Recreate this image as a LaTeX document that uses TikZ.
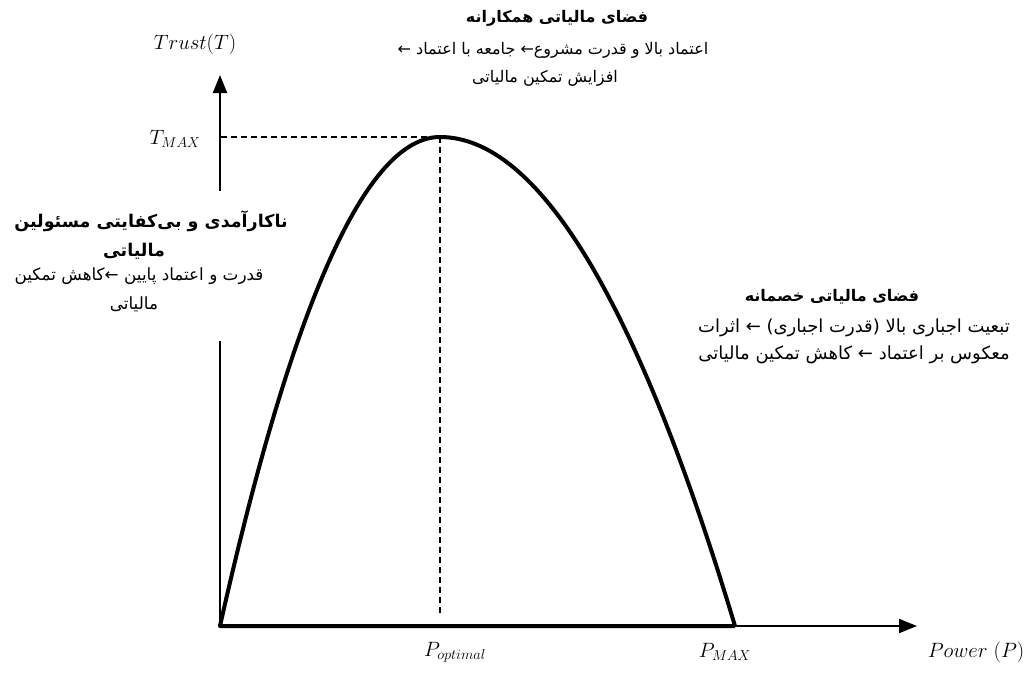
\documentclass[tikz,border=0pt]{standalone}
\usepackage{fontspec}
\newfontfamily\fa[Script=Arabic]{DejaVu Sans}
\TeXXeTstate=1
\usetikzlibrary{arrows.meta}
\tikzset{
  fatop/.style={font=\fa\fontsize{16}{18}\selectfont, inner sep=0pt, anchor=center},
  fatopb/.style={font=\fa\bfseries\fontsize{16}{18}\selectfont, inner sep=0pt, anchor=center},
  faleft/.style={font=\fa\fontsize{16.8}{19}\selectfont, inner sep=0pt, anchor=center},
  faleftb/.style={font=\fa\bfseries\fontsize{17.5}{20}\selectfont, inner sep=0pt, anchor=center},
  faright/.style={font=\fa\fontsize{18}{20}\selectfont, inner sep=0pt, anchor=center},
  farightb/.style={font=\fa\bfseries\fontsize{16}{18}\selectfont, inner sep=0pt, anchor=center},
  mlab/.style={font=\fontsize{20}{24}\selectfont, inner sep=0pt, anchor=center},
  axis/.style={line width=2pt, -{Triangle[length=18pt,width=14pt]}},
  curvestyle/.style={line width=4pt, line join=round},
  guide/.style={line width=1.2pt, dash pattern=on 6pt off 4pt},
  maskbox/.style={fill=white, draw=none, inner sep=0pt}
}
\begin{document}
\begin{tikzpicture}[x=1pt,y=-1pt]
\useasboundingbox (0,0) rectangle (1032,672);
\coordinate (O) at (220,626);
\coordinate (Ytip) at (220,75);
\coordinate (Xtip) at (917,626);
\coordinate (Peak) at (440,137);
\coordinate (Pend) at (735,626);
\coordinate (Tm) at (221,137);
\coordinate (Pb) at (440,615);
% axes
\draw[axis] (O) -- (Ytip);
\draw[axis] (O) -- (Xtip);
% curve and thick base
\draw[curvestyle] (Pend) -- (O) .. controls (293,300) and (367,137) .. (Peak)
  .. controls (538,137) and (637,300) .. (Pend);
% guides
\draw[guide] (Tm) -- (Peak);
\draw[guide] (Peak) -- (Pb);
% math labels
\node[mlab] (trust) at (195,44) {$Trust(T)$};
\node[mlab] (tmax) at (175,139) {$T_{MAX}$};
\node[mlab] (popt) at (455,652) {$P_{optimal}$};
\node[mlab] (pmax) at (725,652) {$P_{MAX}$};
\node[mlab] (power) at (976,652) {$Power\ (P)$};
% top text
\node[fatopb] (t1) at (557,18) {\beginR فضای مالیاتی همکارانه\endR};
\node[fatop] (t2) at (553,50) {\beginR اعتماد بالا و قدرت مشروع← جامعه با اعتماد ←\endR};
\node[fatop] (t3) at (545,78) {\beginR افزایش تمکین مالیاتی\endR};
% left text (its white box hides the axis behind it)
\node[maskbox, minimum width=288pt, minimum height=150pt] (lbox) at (150,266) {};
\node[faleftb] (l1) at (151,221) {\beginR ناکارآمدی و بی‌کفایتی مسئولین\endR};
\node[faleftb] (l2) at (134,251) {\beginR مالیاتی\endR};
\node[faleft] (l3) at (139,276) {\beginR قدرت و اعتماد پایین ←کاهش تمکین\endR};
\node[faleft] (l4) at (134,304) {\beginR مالیاتی\endR};
% right text
\node[farightb] (r1) at (832,297) {\beginR فضای مالیاتی خصمانه\endR};
\node[faright] (r2) at (854,328) {\beginR تبعیت اجباری بالا (قدرت اجباری) ← اثرات\endR};
\node[faright] (r3) at (854,355) {\beginR معکوس بر اعتماد ← کاهش تمکین مالیاتی\endR};
\end{tikzpicture}
\end{document}
